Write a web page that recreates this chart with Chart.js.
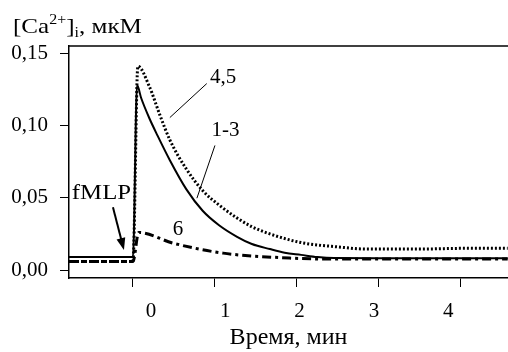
<!DOCTYPE html>
<html>
<head>
<meta charset="utf-8">
<script src="https://cdn.jsdelivr.net/npm/chart.js@4"></script>
<style>
  html, body { margin: 0; padding: 0; background: #fff; }
  #wrap { width: 508px; height: 352px; }
</style>
</head>
<body>
<div id="wrap"><canvas id="chart" width="508" height="352"></canvas></div>
<script>
// время, мин / [Ca2+]i, мкМ
const timeGroup13 = [-0.78, 0, 0.05, 0.1, 0.2, 0.3, 0.45, 0.65, 0.85, 1.05, 1.27, 1.45, 1.67, 1.85, 2.05, 2.25, 2.45, 3.0, 3.6, 4.57];
const caGroup13   = [0.009, 0.009, 0.128, 0.119, 0.105, 0.093, 0.076, 0.056, 0.041, 0.031, 0.023, 0.018, 0.0145, 0.012, 0.0105, 0.009, 0.0083, 0.0082, 0.0082, 0.0082];

const timeGroup45 = [-0.78, 0, 0.06, 0.2, 0.33, 0.45, 0.65, 0.85, 1.05, 1.27, 1.45, 1.67, 2.05, 2.5, 2.85, 3.5, 4.0, 4.57];
const caGroup45   = [0.006, 0.006, 0.141, 0.127, 0.107, 0.090, 0.070, 0.055, 0.045, 0.036, 0.030, 0.025, 0.019, 0.016, 0.0145, 0.0145, 0.015, 0.015];

const timeGroup6 = [-0.78, 0, 0.07, 0.49, 1.1, 1.91, 2.4, 3.5, 4.57];
const caGroup6   = [0.006, 0.006, 0.026, 0.0186, 0.0117, 0.0083, 0.0076, 0.0076, 0.0076];

const xTickLabels = ['0', '1', '2', '3', '4'];
const yTicks = [0, 0.05, 0.10, 0.15];

const serif = '"Liberation Serif", "Times New Roman", serif';

function toPoints(xs, ys) {
    return xs.map((x, i) => ({ x: x, y: ys[i] }));
}

// подписи и стрелка
const annotations = {
    id: 'annotations',
    afterDraw(chart) {
        const ctx = chart.ctx;
        const xs = chart.scales.x;
        const ys = chart.scales.y;
        const px = v => xs.getPixelForValue(v);
        const py = v => ys.getPixelForValue(v);
        const area = chart.chartArea;

        ctx.save();
        // верхняя рамка
        ctx.strokeStyle = '#000';
        ctx.lineWidth = 1.5;
        ctx.beginPath();
        ctx.moveTo(area.left, area.top);
        ctx.lineTo(area.right, area.top);
        ctx.stroke();

        ctx.fillStyle = '#000';
        ctx.font = '21px ' + serif;
        ctx.textBaseline = 'middle';

        // растянутый по горизонтали текст
        const wideText = (txt, x, y, k) => {
            ctx.save();
            ctx.translate(x, y);
            ctx.scale(k, 1);
            ctx.fillText(txt, 0, 0);
            ctx.restore();
        };

        ctx.textAlign = 'left';
        wideText('fMLP', px(-0.745), py(0.053), 1.18);

        ctx.textAlign = 'center';
        ctx.fillText('4,5', px(1.10), py(0.133));
        ctx.fillText('1-3', px(1.13), py(0.0966));
        ctx.fillText('6', px(0.55), py(0.0283));

        // выноски
        ctx.lineWidth = 1;
        ctx.beginPath();
        ctx.moveTo(px(0.90), py(0.129));
        ctx.lineTo(px(0.45), py(0.1055));
        ctx.moveTo(px(1.0), py(0.0862));
        ctx.lineTo(px(0.78), py(0.0497));
        ctx.stroke();

        // стрелка fMLP
        const x0 = px(-0.244), y0 = py(0.0434);
        const x1 = px(-0.11), y1 = py(0.0138);
        const ang = Math.atan2(y1 - y0, x1 - x0);
        ctx.lineWidth = 2;
        ctx.beginPath();
        ctx.moveTo(x0, y0);
        ctx.lineTo(x1 - 8 * Math.cos(ang), y1 - 8 * Math.sin(ang));
        ctx.stroke();
        ctx.beginPath();
        ctx.moveTo(x1, y1);
        ctx.lineTo(x1 - 13 * Math.cos(ang - 0.35), y1 - 13 * Math.sin(ang - 0.35));
        ctx.lineTo(x1 - 13 * Math.cos(ang + 0.35), y1 - 13 * Math.sin(ang + 0.35));
        ctx.closePath();
        ctx.fill();

        // заголовок оси Y
        ctx.textAlign = 'left';
        ctx.textBaseline = 'alphabetic';
        ctx.translate(13, 33);
        ctx.scale(1.14, 1);
        let x = 0;
        const part = (txt, size, dy) => {
            ctx.font = size + 'px ' + serif;
            ctx.fillText(txt, x, dy);
            x += ctx.measureText(txt).width;
        };
        part('[Ca', 22, 0);
        part('2+', 14, -9);
        part(']', 22, 0);
        part('i', 14, 4);
        part(', мкМ', 22, 0);
        ctx.restore();
    }
};

new Chart(document.getElementById('chart'), {
    type: 'line',
    data: {
        datasets: [
            {
                label: '1-3',
                data: toPoints(timeGroup13, caGroup13),
                borderColor: '#000',
                borderWidth: 2,
                cubicInterpolationMode: 'monotone'
            },
            {
                label: '4,5',
                data: toPoints(timeGroup45, caGroup45),
                borderColor: '#000',
                borderWidth: 3,
                borderDash: [2, 2],
                cubicInterpolationMode: 'monotone'
            },
            {
                label: '6',
                data: toPoints(timeGroup6, caGroup6),
                borderColor: '#000',
                borderWidth: 3,
                borderDash: [9, 4, 3, 4],
                cubicInterpolationMode: 'monotone'
            }
        ]
    },
    options: {
        responsive: false,
        animation: false,
        elements: { point: { radius: 0 } },
        layout: { padding: { top: 46, right: 0, left: 0, bottom: 0 } },
        plugins: {
            legend: { display: false },
            tooltip: { enabled: false }
        },
        scales: {
            x: {
                type: 'linear',
                position: 'bottom',
                weight: 0,
                min: -0.78,
                max: 4.574,
                afterFit: s => { s.height = 10; },
                ticks: { display: false, stepSize: 1, includeBounds: false },
                grid: { drawOnChartArea: false, drawTicks: true, tickLength: 9, color: '#000', lineWidth: 1 },
                border: { display: true, color: '#000', width: 1.5 }
            },
            x2: {
                type: 'linear',
                position: 'bottom',
                weight: 1,
                min: -1.104,
                max: 4.805,
                afterFit: s => { s.height = 64; },
                ticks: {
                    stepSize: 1,
                    includeBounds: false,
                    maxRotation: 0,
                    padding: 3,
                    color: '#000',
                    font: { family: serif, size: 21 },
                    callback: v => xTickLabels[v] !== undefined ? xTickLabels[v] : ''
                },
                grid: { display: false },
                border: { display: false },
                title: {
                    display: true,
                    text: 'Время, мин',
                    color: '#000',
                    font: { family: serif, size: 24 },
                    padding: { top: 0, bottom: 0 }
                }
            },
            y: {
                min: -0.0055,
                max: 0.155,
                afterFit: s => { s.width = 69; },
                afterBuildTicks: s => { s.ticks = yTicks.map(v => ({ value: v })); },
                ticks: {
                    padding: 12,
                    color: '#000',
                    font: { family: serif, size: 21 },
                    callback: v => v.toFixed(2).replace('.', ',')
                },
                grid: { drawOnChartArea: false, drawTicks: true, tickLength: 9, color: '#000', lineWidth: 1 },
                border: { display: true, color: '#000', width: 1.5 }
            }
        }
    },
    plugins: [annotations]
});
</script>
</body>
</html>
